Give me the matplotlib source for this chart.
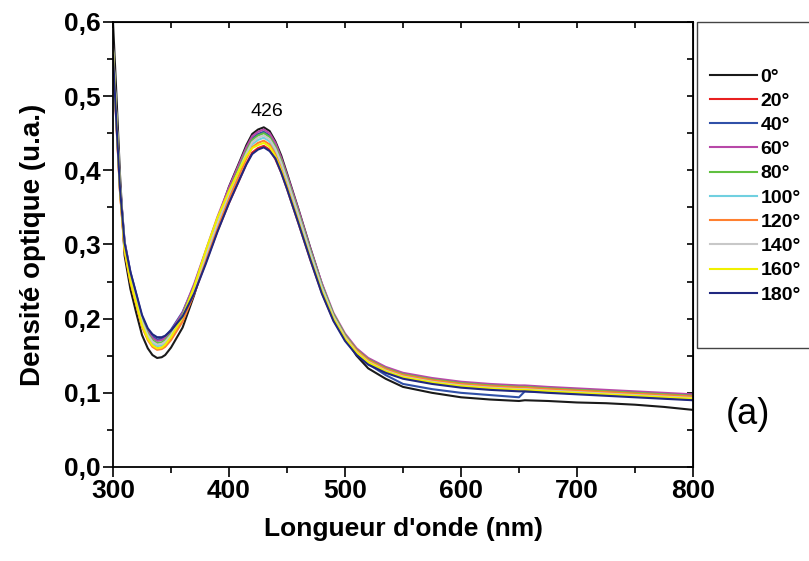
import matplotlib
matplotlib.use("Agg")
from matplotlib import pyplot as plt
from matplotlib.patches import Rectangle

plt.rcParams['font.family'] = ['Liberation Sans', 'DejaVu Sans']

# longueur d'onde (nm)
wl = [300, 303, 306, 310, 315, 320, 325, 330, 334, 338, 342, 345,
      350, 360, 370, 380, 390, 400, 410, 415, 420, 425, 430, 435,
      440, 445, 450, 460, 470, 480, 490, 500, 510, 520, 535, 550,
      575, 600, 625, 650, 655, 675, 700, 725, 750, 775, 800]

d0 = [.600, .500, .395, .285, .240, .208, .178, .160, .151, .147, .148, .151,
      .161, .188, .232, .283, .333, .378, .415, .434, .449, .455, .458, .453,
      .439, .420, .396, .347, .296, .247, .205, .174, .150, .133, .119, .108,
      .100, .094, .091, .089, .090, .089, .087, .086, .084, .081, .077]
d20 = [.555, .460, .372, .293, .251, .221, .191, .173, .164, .160, .161, .164,
       .173, .198, .234, .276, .318, .356, .391, .409, .424, .430, .433, .428,
       .415, .397, .375, .328, .280, .235, .198, .172, .153, .141, .130, .122,
       .115, .110, .107, .105, .105, .103, .101, .099, .097, .095, .093]
d40 = [.560, .466, .380, .304, .263, .233, .203, .185, .176, .172, .173, .176,
       .185, .209, .245, .290, .334, .374, .410, .428, .443, .449, .452, .447,
       .434, .414, .391, .343, .292, .244, .204, .175, .154, .139, .124, .112,
       .105, .100, .097, .094, .102, .101, .099, .098, .096, .093, .091]
d60 = [.568, .473, .383, .303, .261, .231, .201, .183, .174, .170, .171, .174,
       .183, .208, .247, .292, .337, .377, .413, .431, .446, .452, .455, .450,
       .437, .417, .394, .346, .295, .248, .208, .180, .160, .147, .135, .127,
       .120, .115, .112, .110, .110, .108, .106, .104, .102, .100, .098]
d80 = [.565, .470, .380, .300, .258, .228, .198, .180, .171, .167, .168, .171,
       .180, .205, .243, .288, .332, .372, .408, .426, .441, .447, .450, .445,
       .432, .413, .390, .342, .292, .245, .206, .178, .158, .145, .133, .125,
       .118, .113, .110, .108, .108, .106, .104, .102, .100, .098, .096]
d100 = [.562, .467, .377, .296, .254, .224, .194, .176, .167, .163, .164, .167,
        .176, .201, .238, .283, .326, .366, .402, .420, .435, .441, .444, .439,
        .426, .408, .385, .337, .288, .242, .203, .176, .156, .143, .131, .123,
        .116, .111, .108, .106, .106, .104, .102, .100, .098, .096, .094]
d120 = [.557, .463, .372, .291, .249, .219, .189, .171, .162, .158, .159, .162,
        .171, .196, .234, .279, .322, .362, .398, .416, .431, .437, .440, .435,
        .422, .404, .381, .334, .285, .240, .203, .176, .157, .144, .132, .124,
        .117, .112, .109, .107, .107, .105, .103, .101, .099, .097, .095]
d140 = [.563, .468, .378, .298, .256, .226, .196, .178, .169, .165, .166, .169,
        .178, .203, .241, .286, .329, .369, .405, .423, .438, .444, .447, .442,
        .429, .410, .387, .339, .289, .242, .203, .175, .155, .142, .130, .122,
        .115, .110, .107, .105, .105, .103, .101, .099, .097, .095, .093]
d160 = [.560, .465, .374, .293, .251, .221, .191, .173, .164, .160, .161, .165,
        .175, .202, .243, .292, .336, .372, .404, .419, .430, .434, .437, .432,
        .419, .400, .377, .330, .282, .237, .200, .173, .154, .141, .129, .121,
        .114, .109, .106, .104, .104, .102, .100, .098, .096, .094, .092]
d180 = [.555, .462, .376, .302, .263, .234, .205, .187, .179, .175, .175, .177,
        .184, .203, .234, .274, .317, .356, .391, .408, .422, .428, .431, .426,
        .416, .397, .375, .328, .280, .234, .197, .170, .151, .138, .127, .119,
        .112, .107, .104, .102, .102, .100, .098, .096, .094, .092, .090]

labels = ['0°', '20°', '40°', '60°', '80°', '100°', '120°', '140°', '160°', '180°']
colors = ['#1a1a1a', '#e82020', '#3050a8', '#b848a8', '#60c040',
          '#70d0e0', '#ff8030', '#c8c8c8', '#f0f000', '#202880']
series = [d0, d20, d40, d60, d80, d100, d120, d140, d160, d180]

fig = plt.figure(figsize=(8.09, 5.61), dpi=100)
ax = fig.add_axes([113 / 809, 1 - 467 / 561, 580 / 809, 445 / 561])

for y, lab, c in zip(series, labels, colors):
    ax.plot(wl, y, color=c, lw=1.5, label=lab)

ax.set_xlim(300, 800)
ax.set_ylim(0, 0.6)
ax.set_xticks([300, 400, 500, 600, 700, 800])
ax.set_xticks([350, 450, 550, 650, 750], minor=True)
ax.set_yticks([0, 0.1, 0.2, 0.3, 0.4, 0.5, 0.6])
ax.set_yticks([0.05, 0.15, 0.25, 0.35, 0.45, 0.55], minor=True)
ax.set_yticklabels([f'{v:.1f}'.replace('.', ',') for v in [0, 0.1, 0.2, 0.3, 0.4, 0.5, 0.6]])

for s in ax.spines.values():
    s.set_linewidth(1.3)
ax.tick_params(which='major', direction='out', length=7, width=1.2, pad=2,
               labelsize=19)
ax.tick_params(which='minor', direction='out', length=4, width=1.2)
for lbl in ax.get_xticklabels() + ax.get_yticklabels():
    lbl.set_fontweight('bold')

top = ax.secondary_xaxis('top')
top.set_xticks([300, 400, 500, 600, 700, 800])
top.set_xticks([350, 450, 550, 650, 750], minor=True)
top.tick_params(which='both', direction='in', length=4, width=1.2, labeltop=False)
right = ax.secondary_yaxis('right')
right.set_yticks([0, 0.1, 0.2, 0.3, 0.4, 0.5, 0.6])
right.set_yticks([0.05, 0.15, 0.25, 0.35, 0.45, 0.55], minor=True)
right.tick_params(which='both', direction='in', length=4, width=1.2, labelright=False)

ax.set_xlabel("Longueur d'onde (nm)", fontsize=19, fontweight='bold', labelpad=10)
ax.set_ylabel("Densité optique (u.a.)", fontsize=20, fontweight='bold', labelpad=13)

ax.text(433, 0.479, '426', fontsize=14, ha='center', va='center')

# cadre de la légende (coupé par le bord droit)
fig.patches.append(Rectangle((697 / 809, 1 - 348 / 561), 0.2, 326 / 561,
                             transform=fig.transFigure, fill=False,
                             edgecolor='#444444', lw=1.0))
fig.legend(loc='upper left', bbox_to_anchor=(710 / 809, 1 - 68 / 561),
           frameon=False, borderpad=0, borderaxespad=0, handlelength=2.4,
           handletextpad=0.2, labelspacing=0.34,
           prop={'size': 14, 'weight': 'bold'})

fig.text(748 / 809, 1 - 415 / 561, '(a)', fontsize=26, ha='center', va='center')

fig.savefig('out.png', dpi=100)
